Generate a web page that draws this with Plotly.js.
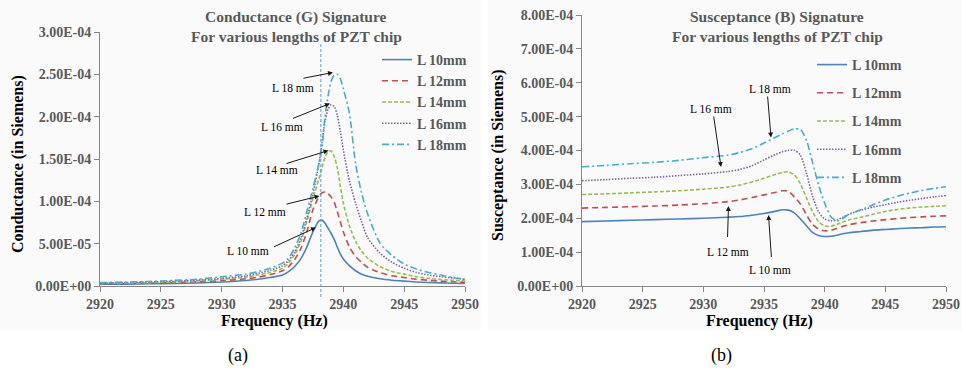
<!DOCTYPE html>
<html>
<head>
<meta charset="utf-8">
<script src="https://cdn.plot.ly/plotly-3.0.1.min.js"></script>
<style>html,body{margin:0;padding:0;background:#fff;}#chart{width:962px;height:373px;}</style>
</head>
<body>
<div id="chart"></div>
<script>
// ---------- DATA ----------
const seriesNames = ["L 10mm", "L 12mm", "L 14mm", "L 16mm", "L 18mm"];
const unit = 1e-4; // values below are in units of 1E-04 Siemens

// Conductance (G) chart
const freqG = [2920, 2922, 2924, 2926, 2928, 2930, 2932, 2933, 2934, 2935, 2935.5, 2936, 2936.5, 2937, 2937.5,
  2938, 2938.25, 2938.5, 2938.75, 2939, 2939.25, 2939.5, 2939.75, 2940, 2940.5, 2941, 2941.5, 2942, 2943, 2944,
  2945, 2946, 2947, 2948, 2949, 2950];
const gL10 = [0.020, 0.022, 0.026, 0.030, 0.036, 0.047, 0.065, 0.080, 0.100, 0.130, 0.170, 0.230, 0.320, 0.460, 0.640,
  0.770, 0.778, 0.740, 0.680, 0.620, 0.550, 0.460, 0.380, 0.320, 0.240, 0.180, 0.140, 0.115, 0.085, 0.068,
  0.057, 0.048, 0.042, 0.037, 0.033, 0.030];
const gL12 = [0.025, 0.028, 0.033, 0.040, 0.050, 0.063, 0.085, 0.105, 0.135, 0.180, 0.230, 0.310, 0.440, 0.640, 0.900,
  1.060, 1.100, 1.110, 1.090, 1.050, 0.990, 0.880, 0.760, 0.640, 0.460, 0.350, 0.280, 0.220, 0.160, 0.120,
  0.100, 0.080, 0.068, 0.058, 0.050, 0.044];
const gL14 = [0.030, 0.035, 0.040, 0.048, 0.060, 0.079, 0.105, 0.130, 0.160, 0.210, 0.270, 0.370, 0.520, 0.760, 1.030,
  1.270, 1.400, 1.520, 1.590, 1.595, 1.530, 1.400, 1.180, 0.980, 0.710, 0.530, 0.410, 0.330, 0.230, 0.170,
  0.140, 0.110, 0.090, 0.077, 0.067, 0.060];
const gL16 = [0.035, 0.040, 0.047, 0.056, 0.070, 0.090, 0.120, 0.150, 0.185, 0.240, 0.300, 0.400, 0.560, 0.800, 1.090,
  1.450, 1.700, 1.950, 2.090, 2.140, 2.120, 2.020, 1.830, 1.610, 1.240, 0.980, 0.760, 0.570, 0.390, 0.280,
  0.210, 0.160, 0.130, 0.110, 0.095, 0.080];
const gL18 = [0.040, 0.046, 0.054, 0.065, 0.080, 0.110, 0.140, 0.170, 0.210, 0.270, 0.330, 0.450, 0.620, 0.880, 1.150,
  1.450, 1.650, 2.000, 2.250, 2.420, 2.490, 2.500, 2.450, 2.330, 2.040, 1.450, 1.100, 0.850, 0.510, 0.360,
  0.260, 0.200, 0.160, 0.130, 0.100, 0.080];

// Susceptance (B) chart
const freqB = [2920, 2922, 2924, 2926, 2928, 2930, 2932, 2933, 2934, 2935, 2936, 2936.5, 2937, 2937.5, 2938, 2938.5,
  2939, 2939.5, 2940, 2940.5, 2941, 2941.5, 2942, 2943, 2944, 2945, 2946, 2947, 2948, 2949, 2950];
const bL10 = [1.90, 1.92, 1.94, 1.96, 1.98, 2.00, 2.03, 2.05, 2.09, 2.14, 2.21, 2.25, 2.24, 2.16, 1.98, 1.78,
  1.58, 1.49, 1.46, 1.47, 1.50, 1.54, 1.57, 1.61, 1.65, 1.67, 1.69, 1.71, 1.72, 1.74, 1.75];
const bL12 = [2.30, 2.32, 2.34, 2.36, 2.39, 2.43, 2.49, 2.54, 2.61, 2.69, 2.77, 2.81, 2.80, 2.63, 2.42, 2.10,
  1.82, 1.68, 1.63, 1.64, 1.70, 1.76, 1.81, 1.87, 1.92, 1.96, 1.99, 2.02, 2.04, 2.06, 2.07];
const bL14 = [2.70, 2.72, 2.75, 2.78, 2.81, 2.86, 2.92, 2.98, 3.07, 3.18, 3.30, 3.35, 3.37, 3.28, 3.02, 2.60,
  2.20, 1.90, 1.77, 1.76, 1.82, 1.89, 1.95, 2.03, 2.12, 2.20, 2.26, 2.30, 2.33, 2.35, 2.37];
const bL16 = [3.11, 3.14, 3.18, 3.21, 3.26, 3.31, 3.38, 3.44, 3.55, 3.72, 3.89, 3.96, 4.00, 4.01, 3.86, 3.33,
  2.65, 2.19, 1.98, 1.92, 1.95, 2.03, 2.12, 2.24, 2.33, 2.40, 2.47, 2.53, 2.58, 2.63, 2.67];
const bL18 = [3.52, 3.56, 3.61, 3.65, 3.71, 3.79, 3.86, 3.94, 4.05, 4.22, 4.40, 4.49, 4.57, 4.64, 4.62, 4.30,
  3.65, 2.98, 2.45, 2.05, 1.92, 2.00, 2.12, 2.25, 2.40, 2.54, 2.65, 2.74, 2.82, 2.88, 2.93];

// Tick labels
const freqTicks = [2920, 2925, 2930, 2935, 2940, 2945, 2950];
const gTickVals = [0, 0.5, 1.0, 1.5, 2.0, 2.5, 3.0];
const gTickText = ["0.00E+00", "5.00E-05", "1.00E-04", "1.50E-04", "2.00E-04", "2.50E-04", "3.00E-04"];
const bTickVals = [0, 1, 2, 3, 4, 5, 6, 7, 8];
const bTickText = ["0.00E+00", "1.00E-04", "2.00E-04", "3.00E-04", "4.00E-04", "5.00E-04", "6.00E-04", "7.00E-04", "8.00E-04"];
const resonanceFreq = 2938.15;
const calloutLabels = ["L 10 mm", "L 12 mm", "L 14 mm", "L 16 mm", "L 18 mm"];

// ---------- STYLE ----------
const colors = ["#4f81bd", "#c0504d", "#9bbb59", "#8064a2", "#4bacc6"];
const dashes = ["solid", "6px,4px", "4px,2px", "1.5px,1.5px", "7px,3px,2px,3px"];
const serif = '"Liberation Serif", "Times New Roman", Times, serif';
const W = 962, H = 373;
const px = v => v / W, py = v => 1 - v / H;

const gSeries = [gL10, gL12, gL14, gL16, gL18];
const bSeries = [bL10, bL12, bL14, bL16, bL18];
const traces = [];
gSeries.forEach((s, i) => traces.push({
  x: freqG, y: s.map(v => v * unit), type: "scatter", mode: "lines", name: seriesNames[i],
  xaxis: "x", yaxis: "y", legend: "legend", legendgroup: "g" + i,
  line: {color: colors[i], width: 1.6, dash: dashes[i], shape: "spline", smoothing: 0.7}
}));
bSeries.forEach((s, i) => traces.push({
  x: freqB, y: s.map(v => v * unit), type: "scatter", mode: "lines", name: seriesNames[i],
  xaxis: "x2", yaxis: "y2", legend: "legend2", legendgroup: "b" + i,
  line: {color: colors[i], width: 1.6, dash: dashes[i], shape: "spline", smoothing: 0.7}
}));

const tickFont = {family: serif, size: 14, color: "#595959", weight: "bold"};
const axisCommon = {
  showline: true, linecolor: "#868686", linewidth: 1, ticks: "outside", ticklen: 5, tickcolor: "#868686",
  showgrid: false, zeroline: false, tickfont: tickFont, fixedrange: true
};

function ann(text, x, y, size, color, bold, angle) {
  return {text: text, xref: "paper", yref: "paper", x: px(x), y: py(y), showarrow: false,
    xanchor: "center", yanchor: "middle", textangle: angle || 0,
    font: {family: serif, size: size, color: color, weight: bold ? "bold" : "normal"}};
}
function arrow(hx, hy, tx, ty) {
  return {text: "", xref: "paper", yref: "paper", x: px(hx), y: py(hy), ax: tx - hx, ay: ty - hy,
    showarrow: true, arrowhead: 2, arrowsize: 1, arrowwidth: 1, arrowcolor: "#1a1a1a", standoff: 0, startstandoff: 0};
}

const annotations = [
  ann("Conductance (G) Signature", 296, 17, 15.5, "#595959", true),
  ann("For various lengths of PZT chip", 296, 37, 15.5, "#595959", true),
  ann("Susceptance (B) Signature", 777, 17, 15.5, "#595959", true),
  ann("For various lengths of PZT chip", 777, 37, 15.5, "#595959", true),
  ann("Frequency (Hz)", 274, 321, 16, "#000000", true),
  ann("Frequency (Hz)", 759, 321, 16, "#000000", true),
  ann("Conductance (in Siemens)", 18, 164, 16, "#000000", true, -90),
  ann("Susceptance (in Siemens)", 498, 155, 16, "#000000", true, -90),
  ann("(a)", 238, 355, 18, "#000000", false),
  ann("(b)", 721, 355, 18, "#000000", false),
  // callouts, conductance
  ann(calloutLabels[4], 293, 88, 11.5, "#000000", false), arrow(333, 72.5, 302, 78.5),
  ann(calloutLabels[3], 281.5, 127, 11.5, "#000000", false), arrow(330, 103.5, 291.5, 119),
  ann(calloutLabels[2], 276.5, 170, 11.5, "#000000", false), arrow(328.5, 150.5, 285, 164),
  ann(calloutLabels[1], 264.5, 212, 11.5, "#000000", false), arrow(319.5, 196, 285, 204.5),
  ann(calloutLabels[0], 248, 250.5, 11.5, "#000000", false), arrow(316, 227.5, 272.5, 247.5),
  // callouts, susceptance
  ann(calloutLabels[4], 769.5, 88.5, 11.5, "#000000", false), arrow(771, 137.5, 767.5, 95),
  ann(calloutLabels[3], 710.5, 109.5, 11.5, "#000000", false), arrow(721, 167, 713.5, 115),
  ann(calloutLabels[1], 728, 251.5, 11.5, "#000000", false), arrow(728.5, 206, 727.5, 238.5),
  ann(calloutLabels[0], 769.5, 269.5, 11.5, "#000000", false), arrow(768.5, 215, 771.5, 258.5)
];

const legendFont = {family: serif, size: 14, color: "#595959", weight: "bold"};
const layout = {
  width: W, height: H, margin: {l: 0, r: 0, t: 0, b: 0},
  paper_bgcolor: "#ffffff", plot_bgcolor: "rgba(0,0,0,0)",
  showlegend: true,
  xaxis: Object.assign({}, axisCommon, {domain: [px(100), px(465)], range: [2920, 2950], tickvals: freqTicks, anchor: "y"}),
  yaxis: Object.assign({}, axisCommon, {domain: [py(286), py(32)], range: [0, 3e-4],
    tickvals: gTickVals.map(v => v * unit), ticktext: gTickText, anchor: "x"}),
  xaxis2: Object.assign({}, axisCommon, {domain: [px(582), px(946)], range: [2920, 2950], tickvals: freqTicks, anchor: "y2"}),
  yaxis2: Object.assign({}, axisCommon, {domain: [py(286), py(15)], range: [0, 8e-4],
    tickvals: bTickVals.map(v => v * unit), ticktext: bTickText, anchor: "x2"}),
  legend: {x: px(377), y: py(44), xanchor: "left", yanchor: "top", bgcolor: "rgba(0,0,0,0)",
    font: legendFont, traceorder: "grouped", tracegroupgap: 0, borderwidth: 0},
  legend2: {x: px(812), y: py(49), xanchor: "left", yanchor: "top", bgcolor: "rgba(0,0,0,0)",
    font: legendFont, traceorder: "grouped", tracegroupgap: 7, borderwidth: 0},
  shapes: [
    {type: "rect", xref: "paper", yref: "paper", x0: 0, x1: px(481), y0: py(330), y1: 1,
      fillcolor: "#fafafa", line: {width: 0}, layer: "below"},
    {type: "rect", xref: "paper", yref: "paper", x0: px(488), x1: 1, y0: py(330), y1: 1,
      fillcolor: "#fafafa", line: {width: 0}, layer: "below"},
    {type: "line", xref: "x", yref: "paper", x0: resonanceFreq, x1: resonanceFreq, y0: py(297), y1: py(42),
      line: {color: "#5b9bd5", width: 1, dash: "3px,2px"}}
  ],
  annotations: annotations
};

Plotly.newPlot("chart", traces, layout, {displayModeBar: false, staticPlot: true});
</script>
</body>
</html>
